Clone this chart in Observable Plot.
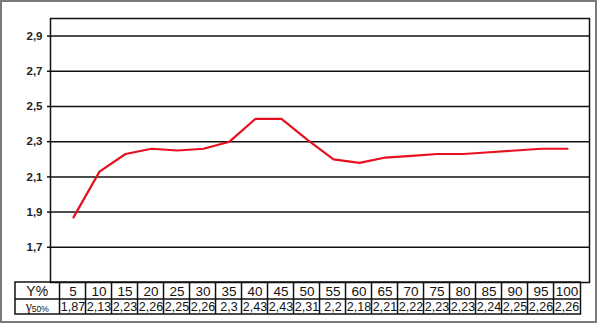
<!DOCTYPE html>
<html>
<head>
<meta charset="utf-8">
<script src="https://cdn.jsdelivr.net/npm/d3@7"></script>
<script src="https://cdn.jsdelivr.net/npm/@observablehq/plot@0.6"></script>
<style>
  html, body { margin: 0; padding: 0; background: #fff; }
  #wrap { position: relative; width: 600px; height: 325px; }
  #frame { position: absolute; left: 0; top: 0; width: 597px; height: 323px; box-sizing: border-box;
           border: 2px solid #7a7a7a; pointer-events: none; }
  svg { display: block; }
</style>
</head>
<body>
<div id="wrap"><div id="frame"></div></div>
<script>
const yPercent = [5, 10, 15, 20, 25, 30, 35, 40, 45, 50, 55, 60, 65, 70, 75, 80, 85, 90, 95, 100];
const gamma50 = [1.87, 2.13, 2.23, 2.26, 2.25, 2.26, 2.3, 2.43, 2.43, 2.31, 2.2, 2.18, 2.21, 2.22, 2.23, 2.23, 2.24, 2.25, 2.26, 2.26];
const yTicks = [1.7, 1.9, 2.1, 2.3, 2.5, 2.7, 2.9];
const rowLabel1 = "Y%";
const rowLabel2Main = "γ";
const rowLabel2Sub = "50%";

(function () {
const data = yPercent.map((p, i) => ({p, g: gamma50[i]}));
const fmt = v => String(v).replace(".", ",");

const plot = Plot.plot({
  width: 600,
  height: 325,
  marginLeft: 50,
  marginRight: 11,
  marginTop: 18,
  marginBottom: 43,
  style: {fontFamily: "Arial, 'Liberation Sans', sans-serif", background: "transparent"},
  x: {type: "point", domain: yPercent, padding: 0.5, axis: null},
  y: {domain: [1.5, 3.0], axis: null},
  marks: [
    Plot.ruleY(yTicks, {stroke: "#111", strokeWidth: 1.5}),
    Plot.frame({stroke: "#111", strokeWidth: 1.5}),
    Plot.axisY(yTicks, {label: null, tickSize: 3, tickPadding: 5, tickFormat: fmt, fontSize: 11.5, fontWeight: "bold", fill: "#222", stroke: "#111", strokeWidth: 1.5}),
    Plot.line(data, {x: "p", y: "g", stroke: "#e8101e", strokeWidth: 2.2})
  ]
});
document.getElementById("wrap").prepend(plot);

// Data table under the plot, aligned with the plot's own x scale
const xs = plot.scale("x");
const step = (xs.range[1] - xs.range[0]) / (yPercent.length - 1 + 2 * xs.padding);
const ys = plot.scale("y");
const tTop = ys.apply(1.5);
const tMid = tTop + 17;
const tBot = tTop + 32;
const tLeft = 15;
const tRight = xs.apply(yPercent[yPercent.length - 1]) + step / 2;
const axisX = xs.apply(yPercent[0]) - step / 2;

const svg = d3.select(plot);
const g = svg.append("g").attr("font-family", "Arial, 'Liberation Sans', sans-serif").attr("fill", "#111");
const lineStyle = sel => sel.attr("stroke", "#111").attr("stroke-width", 1.5);
g.append("rect").attr("x", tLeft).attr("y", tTop).attr("width", tRight - tLeft).attr("height", tBot - tTop)
  .attr("fill", "none").call(lineStyle);
g.append("line").attr("x1", tLeft).attr("x2", tRight).attr("y1", tMid).attr("y2", tMid).call(lineStyle);
g.append("line").attr("x1", axisX).attr("x2", axisX).attr("y1", tTop).attr("y2", tBot).call(lineStyle);
yPercent.slice(1).forEach(p => {
  const xx = xs.apply(p) - step / 2;
  g.append("line").attr("x1", xx).attr("x2", xx).attr("y1", tTop).attr("y2", tBot).call(lineStyle);
});
g.append("text").attr("x", (tLeft + axisX) / 2).attr("y", (tTop + tMid) / 2 + 5)
  .attr("text-anchor", "middle").attr("font-size", 14).text(rowLabel1);
const t2 = g.append("text").attr("x", (tLeft + axisX) / 2).attr("y", (tMid + tBot) / 2 + 4.5)
  .attr("text-anchor", "middle").attr("font-size", 14);
t2.append("tspan").attr("font-family", "'Liberation Serif', serif").text(rowLabel2Main);
t2.append("tspan").attr("font-size", 8.5).attr("dy", 1).text(rowLabel2Sub);
yPercent.forEach((p, i) => {
  g.append("text").attr("x", xs.apply(p)).attr("y", (tTop + tMid) / 2 + 5)
    .attr("text-anchor", "middle").attr("font-size", 13.5).text(p);
  g.append("text").attr("x", xs.apply(p)).attr("y", (tMid + tBot) / 2 + 4.5)
    .attr("text-anchor", "middle").attr("font-size", 12.5).text(fmt(gamma50[i]));
});
})();
</script>
</body>
</html>
